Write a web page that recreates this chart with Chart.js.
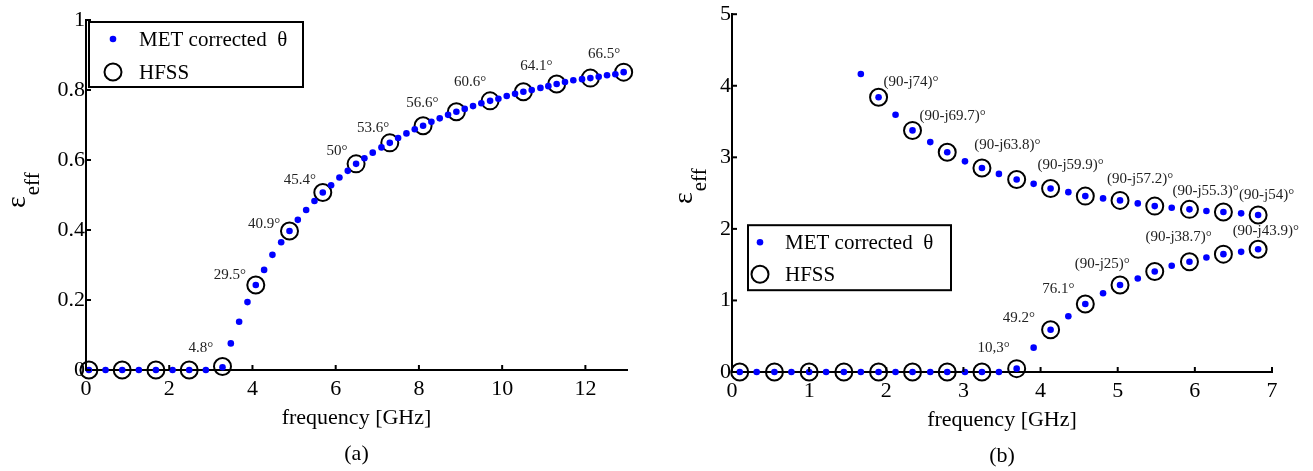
<!DOCTYPE html>
<html>
<head>
<meta charset="utf-8">
<script src="https://cdn.jsdelivr.net/npm/chart.js@4.4.1/dist/chart.umd.min.js"></script>
<style>
  body { margin: 0; background: #fff; }
  #wrap { position: relative; width: 1313px; height: 471px; }
  canvas { position: absolute; top: 0; }
</style>
</head>
<body>
<div id="wrap">
  <canvas id="chartA" width="656" height="471" style="left:0"></canvas>
  <canvas id="chartB" width="657" height="471" style="left:656px"></canvas>
</div>
<script>
// ---------- panel (a) ----------
const xTicksA = [0, 2, 4, 6, 8, 10, 12];
const yTicksA = [0, 0.2, 0.4, 0.6, 0.8, 1];
const yTickLabelsA = ['0', '0.2', '0.4', '0.6', '0.8', '1'];

const metXA = [0.07, 0.47, 0.87, 1.27, 1.68, 2.08, 2.48, 2.88, 3.28,
  3.48, 3.68, 3.88, 4.08, 4.28, 4.48, 4.69, 4.89, 5.09, 5.29, 5.49, 5.69,
  5.89, 6.09, 6.29, 6.49, 6.69, 6.89, 7.10, 7.30, 7.50, 7.70, 7.90, 8.10,
  8.30, 8.50, 8.70, 8.90, 9.10, 9.30, 9.50, 9.71, 9.91, 10.11, 10.31, 10.51,
  10.71, 10.92, 11.11, 11.31, 11.51, 11.71, 11.92, 12.12, 12.32, 12.52, 12.72, 12.92];
const metYA = [0, 0, 0, 0, 0, 0, 0, 0, 0.008,
  0.076, 0.138, 0.194, 0.243, 0.286, 0.329, 0.365, 0.397, 0.429, 0.457, 0.483, 0.507,
  0.528, 0.550, 0.569, 0.589, 0.605, 0.621, 0.636, 0.649, 0.663, 0.676, 0.688, 0.698,
  0.709, 0.719, 0.729, 0.738, 0.746, 0.754, 0.762, 0.769, 0.775, 0.783, 0.789, 0.795,
  0.800, 0.806, 0.811, 0.817, 0.823, 0.828, 0.831, 0.834, 0.838, 0.842, 0.845, 0.851];

const hfssXA = [0.07, 0.87, 1.68, 2.48, 3.28, 4.08, 4.89, 5.69, 6.49, 7.30, 8.10, 8.90, 9.71, 10.51, 11.31, 12.12, 12.92];
const hfssYA = [0, 0, 0, 0, 0.010, 0.243, 0.397, 0.507, 0.589, 0.649, 0.698, 0.738, 0.769, 0.795, 0.817, 0.834, 0.851];

const noteTextA = ['4.8°', '29.5°', '40.9°', '45.4°', '50°', '53.6°', '56.6°', '60.6°', '64.1°', '66.5°'];
const noteXA = [2.76, 3.46, 4.28, 5.14, 6.03, 6.90, 8.08, 9.23, 10.82, 12.45];
const noteYA = [0.063, 0.271, 0.417, 0.543, 0.626, 0.691, 0.763, 0.823, 0.869, 0.903];

// ---------- panel (b) ----------
const xTicksB = [0, 1, 2, 3, 4, 5, 6, 7];
const yTicksB = [0, 1, 2, 3, 4, 5];

const metXB = [0.10, 0.32, 0.55, 0.77, 1.00, 1.22, 1.45, 1.67, 1.90, 2.12, 2.34, 2.57, 2.79, 3.02, 3.24, 3.46,
  3.69, 3.91, 4.13, 4.36, 4.58, 4.81, 5.03, 5.26, 5.48, 5.70, 5.93, 6.15, 6.37, 6.60, 6.82];
const metLowB = [0, 0, 0, 0, 0, 0, 0, 0, 0, 0, 0, 0, 0, 0, 0, 0,
  0.047, 0.34, 0.59, 0.78, 0.95, 1.10, 1.215, 1.307, 1.405, 1.484, 1.54, 1.60, 1.647, 1.679, 1.716];
const metXUpB = [1.67, 1.90, 2.12, 2.34, 2.57, 2.79, 3.02, 3.24, 3.46, 3.69, 3.91, 4.13, 4.36, 4.58,
  4.81, 5.03, 5.26, 5.48, 5.70, 5.93, 6.15, 6.37, 6.60, 6.82];
const metUpB = [4.164, 3.839, 3.594, 3.376, 3.213, 3.07, 2.944, 2.851, 2.768, 2.69, 2.629, 2.565,
  2.513, 2.458, 2.426, 2.398, 2.356, 2.318, 2.295, 2.273, 2.249, 2.235, 2.217, 2.193];

const hfssXLowB = [0.10, 0.55, 1.00, 1.45, 1.90, 2.34, 2.79, 3.24, 3.69, 4.13, 4.58, 5.03, 5.48, 5.93, 6.37, 6.82];
const hfssLowB = [0, 0, 0, 0, 0, 0, 0, 0, 0.047, 0.59, 0.95, 1.215, 1.405, 1.54, 1.647, 1.716];
const hfssXUpB = [1.90, 2.34, 2.79, 3.24, 3.69, 4.13, 4.58, 5.03, 5.48, 5.93, 6.37, 6.82];
const hfssUpB = [3.839, 3.376, 3.07, 2.851, 2.69, 2.565, 2.458, 2.398, 2.318, 2.273, 2.235, 2.193];

const noteTextB = ['(90-j74)°', '(90-j69.7)°', '(90-j63.8)°', '(90-j59.9)°', '(90-j57.2)°', '(90-j55.3)°',
  '(90-j54)°', '(90-j43.9)°', '(90-j38.7)°', '(90-j25)°', '76.1°', '49.2°', '10,3°'];
const noteXB = [2.32, 2.86, 3.57, 4.39, 5.29, 6.14, 6.93, 6.92, 5.79, 4.80, 4.23, 3.72, 3.39];
const noteYB = [4.05, 3.57, 3.17, 2.89, 2.69, 2.53, 2.47, 1.97, 1.89, 1.51, 1.16, 0.76, 0.33];

const serif = '"Liberation Serif", "Times New Roman", serif';
const toPts = (xs, ys) => xs.map((x, i) => ({ x: x, y: ys[i] }));

const decor = {
  id: 'decor',
  afterDraw(chart, args, o) {
    const ctx = chart.ctx, a = chart.chartArea;
    const xs = chart.scales.x, ys = chart.scales.y;
    ctx.save();

    // inward tick marks
    ctx.strokeStyle = '#000';
    ctx.lineWidth = 2;
    xs.ticks.forEach(t => {
      const px = xs.getPixelForValue(t.value);
      ctx.beginPath(); ctx.moveTo(px, a.bottom); ctx.lineTo(px, a.bottom - 5); ctx.stroke();
    });
    ys.ticks.forEach(t => {
      const py = ys.getPixelForValue(t.value);
      ctx.beginPath(); ctx.moveTo(a.left, py); ctx.lineTo(a.left + 5, py); ctx.stroke();
    });

    // point annotations
    ctx.fillStyle = '#222';
    ctx.font = '15px ' + serif;
    ctx.textAlign = 'center';
    ctx.textBaseline = 'middle';
    o.notes.forEach((n, i) => {
      ctx.fillText(n, xs.getPixelForValue(o.noteX[i]), ys.getPixelForValue(o.noteY[i]));
    });

    // legend box (offsets inside the box are relative to its corner)
    const lg = o.legend;
    const bx = a.left + lg.x, by = a.top + lg.y;
    ctx.fillStyle = '#fff';
    ctx.fillRect(bx, by, lg.w, lg.h);
    ctx.strokeStyle = '#000';
    ctx.lineWidth = 2;
    ctx.strokeRect(bx, by, lg.w, lg.h);
    ctx.fillStyle = '#0000ff';
    ctx.beginPath(); ctx.arc(bx + lg.mx, by + lg.r1, 3.3, 0, Math.PI * 2); ctx.fill();
    ctx.beginPath(); ctx.arc(bx + lg.mx, by + lg.r2, 8.5, 0, Math.PI * 2); ctx.stroke();
    ctx.fillStyle = '#000';
    ctx.textAlign = 'left';
    ctx.font = '21px ' + serif;
    ctx.fillText('MET corrected  θ', bx + lg.tx, by + lg.r1 + 1);
    ctx.fillText('HFSS', bx + lg.tx, by + lg.r2 + 1);

    // x title and panel letter
    const cx = (a.left + a.right) / 2;
    ctx.textAlign = 'center';
    ctx.font = '22px ' + serif;
    ctx.fillText('frequency [GHz]', cx, a.bottom + 48);
    ctx.fillText(o.letter, cx, a.bottom + 84);

    // y title: epsilon with "eff" subscript, rotated
    ctx.translate(o.yTitle[0], o.yTitle[1]);
    ctx.rotate(-Math.PI / 2);
    ctx.textAlign = 'left';
    ctx.textBaseline = 'alphabetic';
    ctx.font = '28px ' + serif;
    ctx.fillText('ε', 0, 0);
    const w = ctx.measureText('ε').width;
    ctx.font = '21px ' + serif;
    ctx.fillText('eff', w + 1, 14);
    ctx.restore();
  }
};

function makeAxes(xMax, yMax, xTicks, yTicks, yLabels, yWidth, xHeight) {
  const tickFont = { family: serif, size: 22 };
  return {
    x: {
      type: 'linear', min: 0, max: xMax,
      afterBuildTicks: s => { s.ticks = xTicks.map(v => ({ value: v })); },
      afterFit: s => { s.height = xHeight; },
      ticks: { font: tickFont, color: '#000', padding: 6, autoSkip: false, maxRotation: 0,
        callback: (v, i) => String(xTicks[i]) },
      grid: { drawOnChartArea: false, drawTicks: false },
      border: { color: '#000', width: 2 }
    },
    y: {
      type: 'linear', min: 0, max: yMax,
      afterBuildTicks: s => { s.ticks = yTicks.map(v => ({ value: v })); },
      afterFit: s => { s.width = yWidth; },
      ticks: { font: tickFont, color: '#000', padding: 1, autoSkip: false,
        callback: (v, i) => yLabels[i] },
      grid: { drawOnChartArea: false, drawTicks: false },
      border: { color: '#000', width: 2 }
    }
  };
}

const metStyle = { pointRadius: 3.3, pointBackgroundColor: '#0000ff', pointBorderWidth: 0, showLine: false, clip: false };
const hfssStyle = { pointRadius: 8.5, pointBackgroundColor: 'rgba(0,0,0,0)', pointBorderColor: '#000', pointBorderWidth: 2, showLine: false, clip: false };

new Chart(document.getElementById('chartA'), {
  type: 'scatter',
  data: {
    datasets: [
      Object.assign({ label: 'MET corrected θ', data: toPts(metXA, metYA) }, metStyle),
      Object.assign({ label: 'HFSS', data: toPts(hfssXA, hfssYA) }, hfssStyle)
    ]
  },
  options: {
    responsive: false, animation: false, events: [], devicePixelRatio: 1,
    layout: { padding: { left: 0, top: 20, right: 29, bottom: 0 } },
    scales: makeAxes(13, 1, xTicksA, yTicksA, yTickLabelsA, 86, 101),
    plugins: {
      legend: { display: false }, tooltip: { enabled: false },
      decor: {
        notes: noteTextA, noteX: noteXA, noteY: noteYA, letter: '(a)', yTitle: [25, 208],
        legend: { x: 3, y: 2, w: 214, h: 65, mx: 24, r1: 17, r2: 50, tx: 50 }
      }
    }
  },
  plugins: [decor]
});

new Chart(document.getElementById('chartB'), {
  type: 'scatter',
  data: {
    datasets: [
      Object.assign({ label: 'MET corrected θ', data: toPts(metXB, metLowB) }, metStyle),
      Object.assign({ label: 'MET upper', data: toPts(metXUpB, metUpB) }, metStyle),
      Object.assign({ label: 'HFSS', data: toPts(hfssXLowB, hfssLowB) }, hfssStyle),
      Object.assign({ label: 'HFSS upper', data: toPts(hfssXUpB, hfssUpB) }, hfssStyle)
    ]
  },
  options: {
    responsive: false, animation: false, events: [], devicePixelRatio: 1,
    layout: { padding: { left: 0, top: 12, right: 41, bottom: 0 } },
    scales: makeAxes(7, 5, xTicksB, yTicksB, yTicksB.map(String), 76, 99),
    plugins: {
      legend: { display: false }, tooltip: { enabled: false },
      decor: {
        notes: noteTextB, noteX: noteXB, noteY: noteYB, letter: '(b)', yTitle: [36, 204],
        legend: { x: 16, y: 211, w: 203, h: 65, mx: 12, r1: 17, r2: 49, tx: 37 }
      }
    }
  },
  plugins: [decor]
});
</script>
</body>
</html>
